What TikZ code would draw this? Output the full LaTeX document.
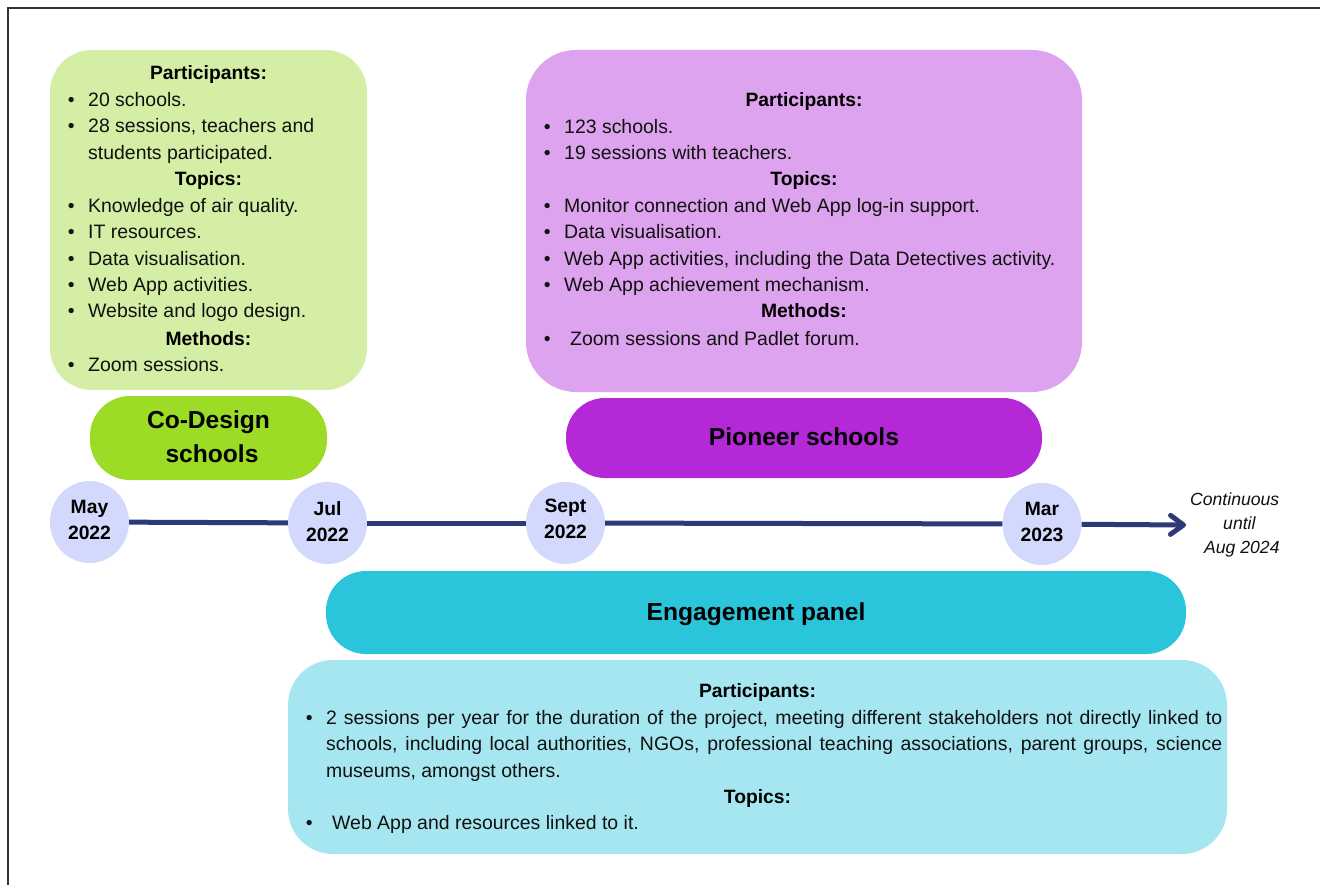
\documentclass[tikz,border=0pt]{standalone}
\usepackage{fontspec}
\setmainfont{Liberation Sans}
\usetikzlibrary{arrows.meta,shapes.geometric}
\definecolor{txtcol}{HTML}{111111}
\definecolor{greenbox}{HTML}{D4EEA5}
\definecolor{greenpill}{HTML}{9CDC27}
\definecolor{purplebox}{HTML}{DDA3EE}
\definecolor{purplepill}{HTML}{B528D8}
\definecolor{tealpill}{HTML}{2AC4DB}
\definecolor{bluebox}{HTML}{A6E6F0}
\definecolor{datecol}{HTML}{D3D9FC}
\definecolor{linecol}{HTML}{2E3A78}
\tikzset{
  panel/.style={rectangle,draw=none,inner sep=0pt},
  pilltext/.style={panel,text=black,align=center,font=\fontsize{24.6}{34}\selectfont\bfseries},
  datenode/.style={ellipse,fill=datecol,draw=none,inner sep=0pt,minimum width=79pt,minimum height=82pt,
    align=center,text=black,font=\fontsize{19.3}{26}\selectfont\bfseries},
  linetext/.style={inner sep=0pt,text=txtcol,anchor=base west,font=\fontsize{19.45}{26}\selectfont},
  headtext/.style={inner sep=0pt,text=black,anchor=base,font=\fontsize{19.3}{26}\selectfont\bfseries},
  timeline/.style={draw=linecol,line width=5pt},
  noteitalic/.style={inner sep=0pt,text=txtcol,align=left,anchor=north west,font=\fontsize{17.6}{24}\selectfont\itshape}
}
\newcommand{\headline}[4]{\node[headtext] (#1) at (#2,#3) {#4};}
\newcommand{\itemline}[5]{\node[linetext] (#1) at ({#2-3.3},#4) {\hspace{\dimexpr #3pt - #2pt + 3.3pt\relax}\llap{\makebox[\dimexpr #3pt - #2pt + 3.3pt\relax][l]{•}}#5};}
\newcommand{\contline}[4]{\node[linetext] (#1) at (#2,#3) {#4};}
\newcommand{\liftbox}[2]{\raisebox{#1}[\height][\depth]{#2}}
\newcommand{\dateface}[3]{\liftbox{#1}{\begin{tabular}{@{}c@{}}#2\\#3\end{tabular}}}
\begin{document}
\begin{tikzpicture}[x=1pt,y=-1pt]
\useasboundingbox (0,0) rectangle (1320,885);
\fill[white] (0,0) rectangle (1320,885);
\draw[draw=black!80,line width=1.3pt] (1320,8) -- (8,8) -- (8,885);

% panels
\node[panel,fill=greenbox,rounded corners=42pt,minimum width=317pt,minimum height=340pt] (greenpanel) at (208.5,220) {};
\node[panel,fill=purplebox,rounded corners=50pt,minimum width=556pt,minimum height=342pt] (purplepanel) at (804,221) {};
\node[panel,fill=bluebox,rounded corners=45pt,minimum width=939pt,minimum height=194pt] (bluepanel) at (757.5,757) {};

% pills
\node[pilltext,fill=greenpill,rounded corners=40pt,minimum width=237pt,minimum height=84pt] (codesign) at (208.5,438) {\liftbox{-1pt}{\begin{tabular}{@{}l@{}}Co-Design\\\hspace*{18.5pt}schools\end{tabular}}};
\node[pilltext,fill=purplepill,rounded corners=39pt,minimum width=476pt,minimum height=80pt] (pioneer) at (804,438) {\liftbox{1pt}{Pioneer schools}};
\node[pilltext,fill=tealpill,rounded corners=40pt,minimum width=860pt,minimum height=83pt] (engagement) at (756,612.5) {\liftbox{-2pt}{Engagement panel}};

% dates
\node[datenode] (may) at (89.5,522) {\dateface{1pt}{May}{2022}};
\node[datenode] (jul) at (327.5,523) {\dateface{-0.5pt}{Jul}{2022}};
\node[datenode] (sept) at (565.5,523) {\dateface{2.5pt}{Sept}{2022}};
\node[datenode] (mar) at (1042,524) {\dateface{0.5pt}{Mar}{2023}};
\coordinate (arrowend) at (1186,525);

% timeline
\draw[timeline] (may) -- (jul);
\draw[timeline] (jul) -- (sept);
\draw[timeline] (sept) -- (mar);
\draw[timeline,-{Straight Barb[length=13pt,width=19pt,line width=5pt,round]}] (mar) -- (arrowend);

\node[noteitalic] (continuous) at (1190,493) {Continuous\\\hspace*{33pt}until\\\hspace*{14pt}Aug 2024};

% green panel text
\headline{gh1}{208.5}{80}{Participants:}
\itemline{g1}{71}{88}{106.5}{20 schools.}
\itemline{g2}{71}{88}{133}{28 sessions, teachers and}
\contline{g2b}{88}{159.5}{students participated.}
\headline{gh2}{208.5}{186}{Topics:}
\itemline{g3}{71}{88}{212.5}{Knowledge of air quality.}
\itemline{g4}{71}{88}{239}{IT resources.}
\itemline{g5}{71}{88}{265.5}{Data visualisation.}
\itemline{g6}{71}{88}{292}{Web App activities.}
\itemline{g7}{71}{88}{318}{Website and logo design.}
\headline{gh3}{208.5}{345}{Methods:}
\itemline{g8}{71}{88}{371.5}{Zoom sessions.}

% purple panel text
\headline{ph1}{804}{107}{Participants:}
\itemline{p1}{547}{564}{133.5}{123 schools.}
\itemline{p2}{547}{564}{160}{19 sessions with teachers.}
\headline{ph2}{804}{186}{Topics:}
\itemline{p3}{547}{564}{212.5}{Monitor connection and Web App log-in support.}
\itemline{p4}{547}{564}{239}{Data visualisation.}
\itemline{p5}{547}{564}{265.5}{Web App activities, including the Data Detectives activity.}
\itemline{p6}{547}{564}{292}{Web App achievement mechanism.}
\headline{ph3}{804}{318}{Methods:}
\itemline{p7}{547}{570}{345}{Zoom sessions and Padlet forum.}

% blue panel text
\headline{bh1}{757.5}{697}{Participants:}
\itemline{b1}{309}{326}{724}{\makebox[896pt][s]{2 sessions per year for the duration of the project, meeting different stakeholders not directly linked to}}
\contline{b1b}{326}{750.5}{\makebox[896pt][s]{schools, including local authorities, NGOs, professional teaching associations, parent groups, science}}
\contline{b1c}{326}{777}{museums, amongst others.}
\headline{bh2}{757.5}{803}{Topics:}
\itemline{b2}{309}{332}{829.5}{Web App and resources linked to it.}
\end{tikzpicture}
\end{document}
